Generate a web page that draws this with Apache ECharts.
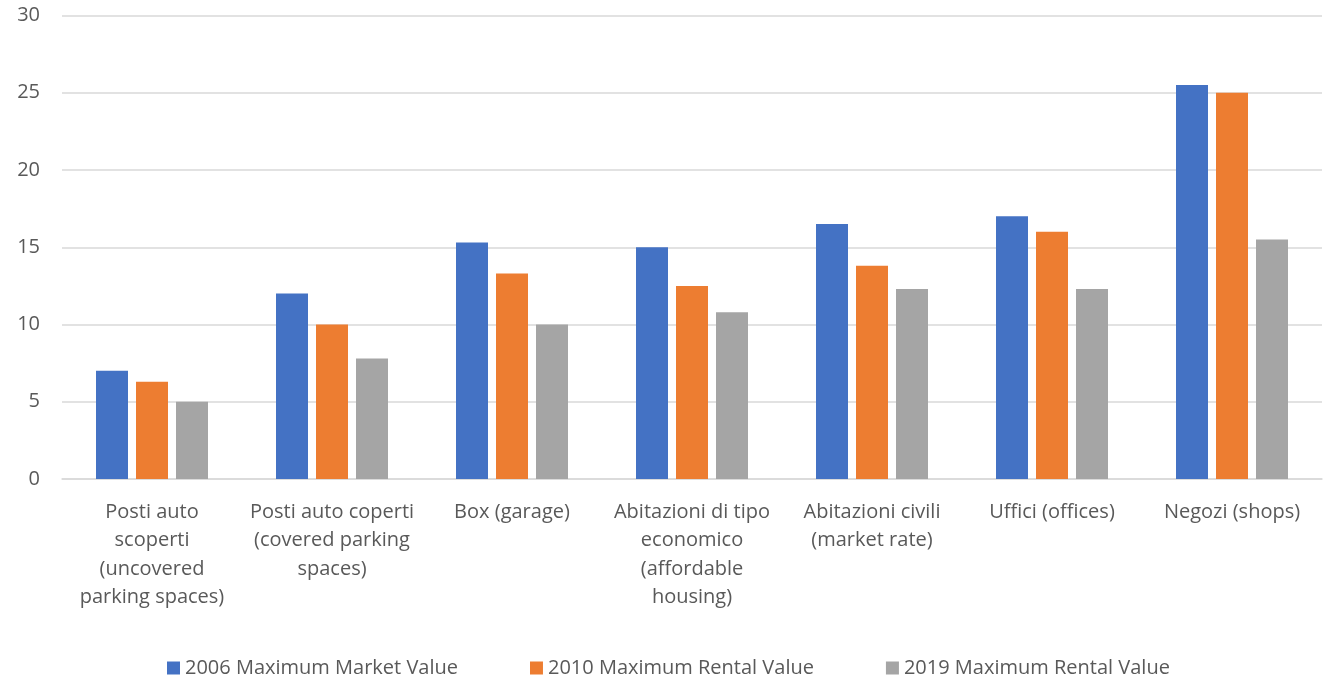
<!DOCTYPE html>
<html lang="en" style="height: 100%">
<head>
  <meta charset="utf-8" />
</head>
<body style="height: 100%; margin: 0; background: #fff">
  <div id="container" style="width: 1325px; height: 687px"></div>
  <script src="https://cdn.jsdelivr.net/npm/echarts@6/dist/echarts.min.js"></script>
  <script type="text/javascript">
    var categories = [
      "Posti auto\nscoperti\n(uncovered\nparking spaces)",
      "Posti auto coperti\n(covered parking\nspaces)",
      "Box (garage)",
      "Abitazioni di tipo\neconomico\n(affordable\nhousing)",
      "Abitazioni civili\n(market rate)",
      "Uffici (offices)",
      "Negozi (shops)"
    ];
    var market2006 = [7, 12, 15.3, 15, 16.5, 17, 25.5];
    var rental2010 = [6.3, 10, 13.3, 12.5, 13.8, 16, 25];
    var rental2019 = [5, 7.8, 10, 10.8, 12.3, 12.3, 15.5];
    var seriesNames = [
      "2006 Maximum Market Value",
      "2010 Maximum Rental Value",
      "2019 Maximum Rental Value"
    ];

    var font = "'Open Sans', sans-serif";
    var textColor = "#595959";

    var myChart = echarts.init(document.getElementById("container"), null, {
      renderer: "canvas"
    });

    var option = {
      animation: false,
      color: ["#4472C4", "#ED7D31", "#A5A5A5"],
      textStyle: { fontFamily: font },
      grid: { left: 62, right: 3, top: 15.5, bottom: 208 },
      legend: {
        data: seriesNames,
        bottom: 4,
        left: 162,
        itemWidth: 13,
        itemHeight: 13,
        itemGap: 72,
        icon: "rect",
        textStyle: { fontSize: 20, color: textColor, fontFamily: font }
      },
      xAxis: {
        type: "category",
        data: categories,
        axisLine: { lineStyle: { color: "#D9D9D9", width: 1.5 } },
        axisTick: { show: false },
        axisLabel: {
          interval: 0,
          margin: 19,
          fontSize: 20,
          lineHeight: 28.5,
          color: textColor,
          fontFamily: font
        }
      },
      yAxis: {
        type: "value",
        min: 0,
        max: 30,
        interval: 5,
        axisLine: { show: false },
        axisTick: { show: false },
        axisLabel: { fontSize: 20, color: textColor, margin: 22, fontFamily: font },
        splitLine: { lineStyle: { color: "#D9D9D9", width: 1.5 } }
      },
      series: [
        { name: seriesNames[0], type: "bar", data: market2006, barWidth: 32, barGap: "25%" },
        { name: seriesNames[1], type: "bar", data: rental2010, barWidth: 32, barGap: "25%" },
        { name: seriesNames[2], type: "bar", data: rental2019, barWidth: 32, barGap: "25%" }
      ]
    };

    myChart.setOption(option);
    window.addEventListener("resize", myChart.resize);
  </script>
</body>
</html>
